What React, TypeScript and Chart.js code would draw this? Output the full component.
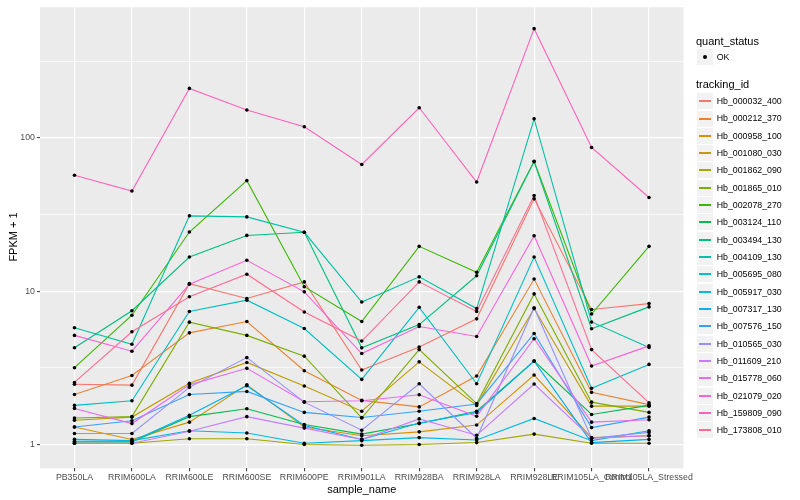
import React, { useEffect, useRef } from "react";
import { Chart, registerables } from "chart.js";

Chart.register(...registerables);

const categories = [
  "PB350LA",
  "RRIM600LA",
  "RRIM600LE",
  "RRIM600SE",
  "RRIM600PE",
  "RRIM901LA",
  "RRIM928BA",
  "RRIM928LA",
  "RRIM928LE",
  "RRIM105LA_Control",
  "RRIM105LA_Stressed",
];

const trackingIds = [
  "Hb_000032_400",
  "Hb_000212_370",
  "Hb_000958_100",
  "Hb_001080_030",
  "Hb_001862_090",
  "Hb_001865_010",
  "Hb_002078_270",
  "Hb_003124_110",
  "Hb_003494_130",
  "Hb_004109_130",
  "Hb_005695_080",
  "Hb_005917_030",
  "Hb_007317_130",
  "Hb_007576_150",
  "Hb_010565_030",
  "Hb_011609_210",
  "Hb_015778_060",
  "Hb_021079_020",
  "Hb_159809_090",
  "Hb_173808_010",
];

const seriesColors = [
  "#F8766D", "#EA8331", "#D89000", "#C09B00", "#A3A500",
  "#7CAE00", "#39B600", "#00BB4E", "#00BF7D", "#00C1A3",
  "#00BFC4", "#00BAE0", "#00B0F6", "#35A2FF", "#9590FF",
  "#C77CFF", "#E76BF3", "#FA62DB", "#FF62BC", "#FF6C91",
];

// FPKM + 1 values, one per sample
const hb000032_400 = [2.47, 2.44, 11.2, 8.97, 11.5, 3.06, 4.33, 6.6, 40, 7.6, 8.3];
const hb000212_370 = [2.12, 2.82, 5.35, 6.34, 3.03, 1.94, 1.76, 2.8, 12.0, 2.19, 1.82];
const hb000958_100 = [1.3, 1.08, 1.4, 2.45, 1.3, 1.14, 1.21, 1.34, 2.84, 1.11, 1.14];
const hb001080_030 = [1.44, 1.51, 2.51, 3.43, 2.41, 1.65, 3.46, 1.8, 7.7, 1.78, 1.78];
const hb001862_090 = [1.02, 1.02, 1.09, 1.09, 1.0, 0.99, 1.0, 1.03, 1.17, 1.02, 1.02];
const hb001865_010 = [1.49, 1.52, 6.28, 5.15, 3.77, 1.49, 4.16, 1.85, 9.6, 1.89, 1.62];
const hb002078_270 = [3.17, 6.97, 24.3, 52.6, 10.7, 6.34, 19.6, 13.3, 70.3, 7.1, 19.6];
const hb003124_110 = [1.04, 1.04, 1.52, 1.71, 1.35, 1.17, 1.37, 1.65, 3.5, 1.57, 1.8];
const hb003494_130 = [4.28, 7.46, 16.7, 23.1, 24.2, 4.27, 6.06, 12.6, 70, 5.69, 7.9];
const hb004109_130 = [5.77, 4.51, 31.0, 30.5, 24.2, 8.5, 12.4, 7.7, 133, 6.3, 4.3];
const hb005695_080 = [1.8, 1.93, 7.37, 8.74, 5.71, 2.66, 7.85, 2.49, 16.7, 2.33, 3.33];
const hb005917_030 = [1.08, 1.06, 1.23, 1.19, 1.02, 1.06, 1.11, 1.07, 1.48, 1.06, 1.23];
const hb007317_130 = [1.05, 1.05, 1.55, 2.42, 1.33, 1.08, 1.38, 1.62, 3.5, 1.03, 1.08];
const hb007576_150 = [1.3, 1.43, 2.12, 2.22, 1.62, 1.5, 1.65, 1.84, 5.3, 1.29, 1.51];
const hb010565_030 = [1.18, 1.18, 2.36, 3.69, 1.89, 1.24, 2.49, 1.1, 7.8, 1.1, 1.2];
const hb011609_210 = [1.02, 1.02, 1.22, 1.52, 1.28, 1.08, 1.47, 1.15, 2.48, 1.1, 1.14];
const hb015778_060 = [1.72, 1.37, 2.45, 3.14, 1.9, 1.93, 2.11, 1.53, 4.9, 1.4, 1.45];
const hb021079_020 = [5.15, 4.06, 11.1, 15.9, 9.9, 3.92, 5.88, 5.07, 23.0, 3.25, 4.4];
const hb159809_090 = [57, 45, 210, 152, 118, 67, 157, 51.5, 515, 86.5, 40.8];
const hb173808_010 = [2.54, 5.44, 9.2, 12.9, 7.32, 4.73, 11.5, 7.37, 42, 4.16, 1.87];

const seriesValues = [
  hb000032_400, hb000212_370, hb000958_100, hb001080_030, hb001862_090,
  hb001865_010, hb002078_270, hb003124_110, hb003494_130, hb004109_130,
  hb005695_080, hb005917_030, hb007317_130, hb007576_150, hb010565_030,
  hb011609_210, hb015778_060, hb021079_020, hb159809_090, hb173808_010,
];

const yMajorTicks = [1, 10, 100];
const yMinorTicks = [Math.sqrt(10), Math.sqrt(1000), Math.sqrt(100000)];

const FONT = '"Liberation Sans", Arial, Helvetica, sans-serif';

const panelPlugin = {
  id: "panelBg",
  beforeDraw(chart: any) {
    const { ctx, chartArea } = chart;
    ctx.save();
    ctx.fillStyle = "#EBEBEB";
    ctx.fillRect(chartArea.left, chartArea.top, chartArea.right - chartArea.left, chartArea.bottom - chartArea.top);
    ctx.restore();
  },
};

const isMajor = (v: number) => yMajorTicks.some((m) => Math.abs(m - v) < 1e-9);

function ChartCanvas() {
  const ref = useRef<HTMLCanvasElement | null>(null);
  useEffect(() => {
    if (!ref.current) return;
    const lineSets = seriesValues.map((vals, i) => ({
      label: trackingIds[i],
      data: vals.map((v, j) => ({ x: j, y: v })),
      borderColor: seriesColors[i],
      backgroundColor: seriesColors[i],
      borderWidth: 1.1,
      pointRadius: 0,
      showLine: true,
      tension: 0,
      order: seriesValues.length - i,
    }));
    const pointData: { x: number; y: number }[] = [];
    seriesValues.forEach((vals) => vals.forEach((v, j) => pointData.push({ x: j, y: v })));
    const pointSet = {
      label: "OK",
      data: pointData,
      showLine: false,
      pointRadius: 1.8,
      pointBackgroundColor: "#000000",
      pointBorderWidth: 0,
      pointBorderColor: "#000000",
      order: -1,
    };
    const chart = new Chart(ref.current, {
      type: "scatter",
      data: { datasets: [pointSet as any, ...lineSets] },
      options: {
        animation: false,
        responsive: false,
        devicePixelRatio: 1,
        layout: { padding: { left: 0, top: 5, right: 116.5, bottom: 0 } },
        plugins: { legend: { display: false }, tooltip: { enabled: false } },
        scales: {
          x: {
            type: "linear",
            min: -0.6,
            max: categories.length - 1 + 0.6,
            afterBuildTicks: (scale: any) => {
              scale.ticks = categories.map((_, i) => ({ value: i }));
            },
            afterFit: (scale: any) => {
              scale.height = 31.7;
            },
            border: { display: false },
            grid: {
              color: "#FFFFFF",
              lineWidth: 1.2,
              tickColor: "#333333",
              tickLength: 3,
              tickWidth: 1,
            },
            ticks: {
              autoSkip: false,
              maxRotation: 0,
              minRotation: 0,
              padding: 1,
              color: "#4D4D4D",
              font: { family: FONT, size: 8.8 },
              callback: (v: any) => categories[Math.round(Number(v))] ?? "",
            },
          },
          y: {
            type: "logarithmic",
            min: 0.732,
            max: 710,
            afterBuildTicks: (scale: any) => {
              const all = [...yMajorTicks, ...yMinorTicks].sort((a, b) => a - b);
              scale.ticks = all.map((v) => ({ value: v, major: isMajor(v) }));
            },
            afterFit: (scale: any) => {
              scale.width = 40;
            },
            border: { display: false },
            grid: {
              color: "#FFFFFF",
              lineWidth: (c: any) => (c.tick && isMajor(c.tick.value) ? 1.2 : 0.7),
              tickColor: (c: any) => (c.tick && isMajor(c.tick.value) ? "#333333" : "rgba(0,0,0,0)"),
              tickLength: 3,
              tickWidth: 1,
            },
            ticks: {
              padding: 2,
              color: "#4D4D4D",
              font: { family: FONT, size: 8.8 },
              callback: (v: any) => (isMajor(Number(v)) ? String(Number(v)) : ""),
            },
          },
        },
      },
      plugins: [panelPlugin],
    } as any);
    return () => chart.destroy();
  }, []);
  return <canvas ref={ref} width={800} height={500} style={{ position: "absolute", left: 0, top: 0, width: 800, height: 500 }} />;
}

const textStyle = (left: number, centerY: number, size: number, extra: any = {}) => ({
  position: "absolute" as const,
  left,
  top: centerY - 8,
  height: 16,
  lineHeight: "16px",
  fontFamily: FONT,
  fontSize: size,
  color: "#000000",
  whiteSpace: "nowrap" as const,
  ...extra,
});

export default function App() {
  const cellH = 17.32;
  const keyTop0 = 92.4;
  return (
    <div style={{ position: "fixed", left: 0, top: 0, width: 800, height: 500, background: "#FFFFFF", overflow: "hidden" }}>
      <ChartCanvas />
      {/* axis titles */}
      <div style={textStyle(311.8, 489, 11, { width: 100, textAlign: "center" })}>sample_name</div>
      <div
        style={{
          position: "absolute",
          left: 13 - 50,
          top: 236.5 - 8,
          width: 100,
          height: 16,
          lineHeight: "16px",
          textAlign: "center",
          fontFamily: FONT,
          fontSize: 11,
          color: "#000000",
          transform: "rotate(-90deg)",
          whiteSpace: "nowrap",
        }}
      >
        FPKM + 1
      </div>
      {/* legend: quant_status */}
      <div style={textStyle(696, 40.7, 11)}>quant_status</div>
      <div style={{ position: "absolute", left: 697, top: 49, width: 16, height: 16, background: "#F2F2F2" }}>
        <div style={{ position: "absolute", left: 6, top: 6, width: 4, height: 4, borderRadius: "50%", background: "#000" }} />
      </div>
      <div style={textStyle(716.7, 57.2, 8.8)}>OK</div>
      {/* legend: tracking_id */}
      <div style={textStyle(696, 84.3, 11)}>tracking_id</div>
      {trackingIds.map((id, i) => {
        const top = Math.round(keyTop0 + i * cellH + 0.8);
        return (
          <React.Fragment key={id}>
            <div style={{ position: "absolute", left: 697, top, width: 16, height: 16, background: "#F2F2F2" }}>
              <div style={{ position: "absolute", left: 2, top: 7, width: 12, height: 1.6, background: seriesColors[i] }} />
            </div>
            <div style={textStyle(716.7, keyTop0 + i * cellH + cellH / 2, 8.8)}>{id}</div>
          </React.Fragment>
        );
      })}
    </div>
  );
}
